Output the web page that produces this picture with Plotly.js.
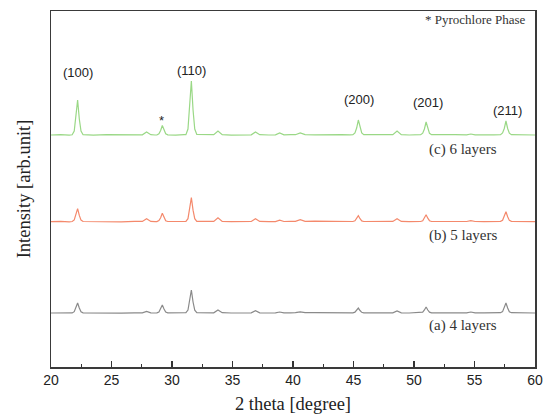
<!DOCTYPE html>
<html>
<head>
<meta charset="utf-8">
<script src="https://cdn.plot.ly/plotly-3.0.1.min.js"></script>
<style>html,body{margin:0;padding:0;background:#fff;}#chart{width:549px;height:419px;}</style>
</head>
<body>
<div id="chart"></div>
<script>
// 2 theta sampling points (degree)
const twoTheta = [
  20, 20.8, 21.5,
  21.75, 21.92, 22.06, 22.2, 22.34, 22.48, 22.65,
  23.5, 24.6, 25.8, 26.9,
  27.55, 27.9, 28.25,
  28.6,
  28.75, 28.92, 29.06, 29.2, 29.34, 29.48, 29.65,
  30.3, 31.0,
  31.15, 31.32, 31.46, 31.6, 31.74, 31.88, 32.05,
  32.8,
  33.45, 33.8, 34.15,
  34.9, 35.8,
  36.55, 36.9, 37.25,
  38.0,
  38.55, 38.9, 39.25,
  39.8,
  40.2, 40.6, 41.0,
  41.8, 42.9, 44.0, 44.7,
  44.95, 45.12, 45.26, 45.4, 45.54, 45.68, 45.85,
  46.7, 47.6,
  48.25, 48.6, 48.95,
  49.6, 50.3,
  50.55, 50.72, 50.86, 51.0, 51.14, 51.28, 51.45,
  52.3, 53.4,
  54.35, 54.7, 55.05,
  55.8, 56.6,
  57.15, 57.32, 57.46, 57.6, 57.74, 57.88, 58.05,
  58.8, 59.5, 60
];

// relative intensities
const int6 = [
  0, 0.3, -0.2,
  0.2, 4, 17, 35, 16, 4, 0.3,
  -0.2, 0.3, 0, 0.4,
  0.2, 3, 0.3,
  0,
  0, 1.2, 4.5, 9.5, 4.5, 1.2, 0.1,
  -0.2, 0.3,
  0.4, 6, 26, 54, 25, 6, 0.5,
  0.2,
  0.3, 4, 0.3,
  -0.1, 0.3,
  0.2, 3, 0.3,
  0,
  0.2, 2, 0.2,
  0.4,
  0.3, 2, 0.4,
  0.2, 0.6, 0.3, 0.1,
  0.3, 2, 7, 15, 7, 2, 0.3,
  0.2, 0,
  0.3, 4, 0.3,
  0, 0.2,
  0.3, 1.8, 6, 13, 6, 1.7, 0.3,
  0, 0.3,
  0.2, 1, 0.2,
  -0.1, 0.2,
  0.3, 2, 6.5, 14, 6.5, 1.8, 0.3,
  0, 0.2, 0
];
const int5 = [
  0, 0.3, -0.2,
  0.2, 1.7, 6.5, 13, 6.3, 1.6, 0.2,
  0, 0.4, -0.1, 0.3,
  0.3, 3, 0.3,
  0,
  0.1, 1.1, 4, 8.5, 4, 1, 0.2,
  0.3, -0.1,
  0.3, 3, 12, 24, 11.5, 3, 0.3,
  0.2,
  0.3, 4, 0.3,
  0, 0.3,
  0.2, 3, 0.3,
  0,
  0.1, 1.5, 0.2,
  0.3,
  0.3, 2, 0.3,
  0.5, 0.2, 0.4, 0.1,
  0.2, 0.9, 3, 6, 3, 0.8, 0.2,
  0.3, 0,
  0.3, 3, 0.3,
  0.1, 0.3,
  0.2, 1, 3.5, 7, 3.5, 1, 0.2,
  0.3, 0,
  0.2, 1, 0.2,
  0, 0.3,
  0.3, 1.4, 5, 10, 5, 1.3, 0.3,
  0, 0.2, 0
];
const int4 = [
  0, 0.2, -0.1,
  0.1, 1.3, 5, 10, 5, 1.2, 0.2,
  0, 0.3, -0.1, 0.2,
  0.2, 1.5, 0.2,
  0,
  0.1, 1, 4, 8, 4, 1, 0.2,
  0.2, 0,
  0.3, 3, 11.5, 23, 11, 2.8, 0.3,
  0.1,
  0.2, 3, 0.3,
  0, 0.2,
  0.2, 2.3, 0.2,
  0,
  0.1, 1, 0.2,
  0.2,
  0.3, 1.2, 0.4,
  0.3, 0.1, 0.4, 0,
  0.2, 0.8, 2.5, 5, 2.5, 0.7, 0.2,
  0.2, 0,
  0.2, 2, 0.2,
  0, 0.3,
  0.2, 0.9, 3, 6, 3, 0.8, 0.2,
  0.2, 0,
  0.2, 1, 0.2,
  0.1, 0.2,
  0.3, 1.4, 5, 10, 5, 1.3, 0.3,
  0, 0.2, 0
];

// vertical stacking offsets
const offset4 = 54, offset5 = 145.3, offset6 = 232;

const seriesLabels = ['(a) 4 layers', '(b) 5 layers', '(c) 6 layers'];
const peakLabels = ['(100)', '(110)', '(200)', '(201)', '(211)'];
const peakPos = [22.25, 31.6, 45.45, 51.15, 57.75];
const peakLabelY = [294.3, 296.3, 267.7, 264.3, 257];

const shift = (arr, o) => arr.map(v => v + o);

const traces = [
  {x: twoTheta, y: shift(int4, offset4), mode: 'lines', line: {color: '#8a8a8a', width: 1.2}, hoverinfo: 'skip'},
  {x: twoTheta, y: shift(int5, offset5), mode: 'lines', line: {color: '#f4896c', width: 1.2}, hoverinfo: 'skip'},
  {x: twoTheta, y: shift(int6, offset6), mode: 'lines', line: {color: '#9ad886', width: 1.2}, hoverinfo: 'skip'}
];

const serif = 'Liberation Serif, Times New Roman, serif';
const sans = 'Liberation Sans, Arial, sans-serif';

const annotations = [];
peakLabels.forEach((t, i) => annotations.push({
  x: peakPos[i], y: peakLabelY[i], text: t, showarrow: false,
  font: {family: sans, size: 13, color: '#222'}
}));
annotations.push({x: 29.15, y: 247, text: '*', showarrow: false, font: {family: sans, size: 13, color: '#222'}});
annotations.push({x: 54.05, y: 217.7, text: seriesLabels[2], showarrow: false, font: {family: serif, size: 15, color: '#333'}});
annotations.push({x: 54.05, y: 132, text: seriesLabels[1], showarrow: false, font: {family: serif, size: 15, color: '#333'}});
annotations.push({x: 54.05, y: 42, text: seriesLabels[0], showarrow: false, font: {family: serif, size: 15, color: '#333'}});
annotations.push({xref: 'paper', x: 0.986, xanchor: 'right', y: 347.7, text: '* Pyrochlore Phase', showarrow: false, font: {family: serif, size: 13, color: '#333'}});

const layout = {
  width: 549, height: 419,
  margin: {l: 51, r: 14, t: 11, b: 52},
  paper_bgcolor: '#fff', plot_bgcolor: '#fff',
  showlegend: false,
  xaxis: {
    range: [20, 60], dtick: 5, tick0: 20,
    ticks: 'inside', ticklen: 6.5, tickwidth: 1.3, tickcolor: '#333',
    minor: {dtick: 2.5, ticks: 'inside', ticklen: 3.5, tickwidth: 1.2, tickcolor: '#333'},
    showline: true, linecolor: '#3a3a3a', linewidth: 1.5, mirror: true,
    showgrid: false, zeroline: false,
    tickfont: {family: sans, size: 14, color: '#222'},
    title: {text: '2 theta [degree]', font: {family: serif, size: 18.5, color: '#222'}, standoff: 10}
  },
  yaxis: {
    range: [0, 356],
    showticklabels: false, ticks: '',
    showline: true, linecolor: '#3a3a3a', linewidth: 1.5, mirror: true,
    showgrid: false, zeroline: false,
    title: {text: 'Intensity [arb.unit]', font: {family: serif, size: 18.5, color: '#222'}, standoff: 14}
  },
  annotations: annotations
};

Plotly.newPlot('chart', traces, layout, {displayModeBar: false, staticPlot: true});
</script>
</body>
</html>
